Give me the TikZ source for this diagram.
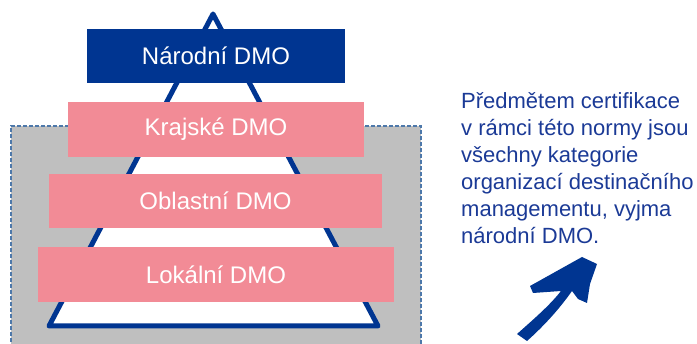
\documentclass[tikz,border=0pt]{standalone}
\usepackage{fontspec}
\setmainfont{Liberation Sans}
\definecolor{navy}{HTML}{003591}
\definecolor{pinkbar}{HTML}{F28B96}
\definecolor{greybg}{HTML}{BFBFBF}
\definecolor{dashblue}{HTML}{4D78AA}
\definecolor{textblue}{HTML}{1B3A96}
\begin{document}
\begin{tikzpicture}[x=1pt,y=-1pt,
  bar/.style={rectangle,inner sep=0pt,text=white,font=\fontsize{24}{28}\selectfont},
  pinkbox/.style={bar,fill=pinkbar},
  navybox/.style={bar,fill=navy}]
\useasboundingbox (0,0) rectangle (697,344);
\begin{scope}
\clip (0,0) rectangle (697,344);
% grey region
\fill[greybg] (11,126) rectangle (421,360);
\draw[dashblue,line width=1.5pt,dashed,dash pattern=on 4pt off 2pt] (11,360) -- (11,126) -- (421,126) -- (421,360);
\end{scope}
% pyramid
\coordinate (apex) at (213,14);
\coordinate (bl) at (49,326);
\coordinate (br) at (378,326);
\draw[navy,fill=white,line width=5pt,line join=round] (apex) -- (br) -- (bl) -- cycle;
% bars
\node[navybox,minimum width=258pt,minimum height=54pt] (nar) at (216,56) {Národní DMO};
\node[pinkbox,minimum width=296pt,minimum height=55pt] (kra) at (216,129.5) {Krajské DMO};
\node[pinkbox,minimum width=333pt,minimum height=54pt] (obl) at (215.5,201) {Oblastní DMO};
\node[pinkbox,minimum width=356pt,minimum height=55pt] (lok) at (216,274.5) {Lokální DMO};
% text
\node[anchor=north west,inner sep=0pt,align=left,text=textblue,font=\fontsize{22}{27}\selectfont] (txt) at (461,92)
 {Předmětem certifikace\\v rámci této normy jsou\\všechny kategorie\\organizací destinačního\\managementu, vyjma\\národní DMO.};
% arrow
\fill[navy] (517,334) .. controls (535,318) and (550,305) .. (561,291)
  -- (533,293) -- (530,286) -- (582,257) -- (597,264) -- (590,284) -- (587,303) -- (578,299) -- (572,291)
  .. controls (560,308) and (545,325) .. (527,341) -- cycle;
\end{tikzpicture}
\end{document}
